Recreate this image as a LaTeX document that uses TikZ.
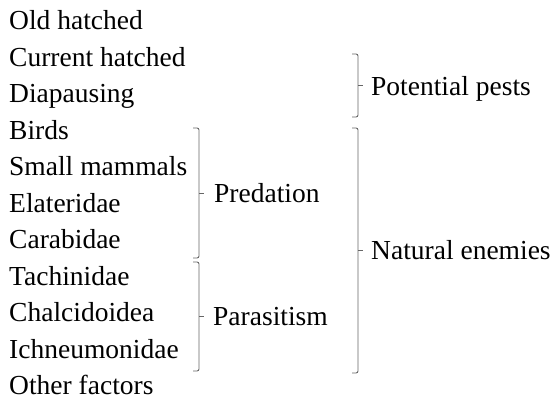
\documentclass[tikz,border=0pt]{standalone}
\usepackage{fontspec}
\setmainfont{Liberation Serif}
\usetikzlibrary{calc}
\begin{document}
\begin{tikzpicture}[x=1pt,y=-1pt,
  lbl/.style={anchor=base west,inner sep=0pt,font=\fontsize{27.5}{30}\selectfont,text=black},
  brk/.style={draw=black!60,line width=0.9pt,rounded corners=2pt},
  tick/.style={draw=black!60,line width=0.9pt}]
\useasboundingbox (0,0) rectangle (553,400);
% left list
\node[lbl] (t1) at (9,29.5) {Old hatched};
\node[lbl] (t2) at (9,66) {Current hatched};
\node[lbl] (t3) at (9,102.5) {Diapausing};
\node[lbl] (t4) at (9,139) {Birds};
\node[lbl] (t5) at (9,175.5) {Small mammals};
\node[lbl] (t6) at (9,212) {Elateridae};
\node[lbl] (t7) at (9,248.5) {Carabidae};
\node[lbl] (t8) at (9,285) {Tachinidae};
\node[lbl] (t9) at (9,321.5) {Chalcidoidea};
\node[lbl] (t10) at (9,358) {Ichneumonidae};
\node[lbl] (t11) at (9,394) {Other factors};
% bracket coordinates
\coordinate (prT) at (199,128); \coordinate (prB) at (199,258);
\coordinate (paT) at (199,262); \coordinate (paB) at (199,371);
\coordinate (ppT) at (358,54);  \coordinate (ppB) at (358,117);
\coordinate (neT) at (358,128); \coordinate (neB) at (358,373);
% brackets with middle ticks
\foreach \a/\b in {prT/prB,paT/paB,ppT/ppB,neT/neB}{
  \draw[brk] ([xshift=-6pt]\a) -- (\a) -- (\b) -- ([xshift=-6pt]\b);
  \draw[tick] ($(\a)!0.5!(\b)$) -- ++(5,0);
}
% group labels
\node[lbl] (g1) at (214,202) {Predation};
\node[lbl] (g2) at (213,325) {Parasitism};
\node[lbl] (g3) at (371,95) {Potential pests};
\node[lbl] (g4) at (371,259) {Natural enemies};
\end{tikzpicture}
\end{document}
